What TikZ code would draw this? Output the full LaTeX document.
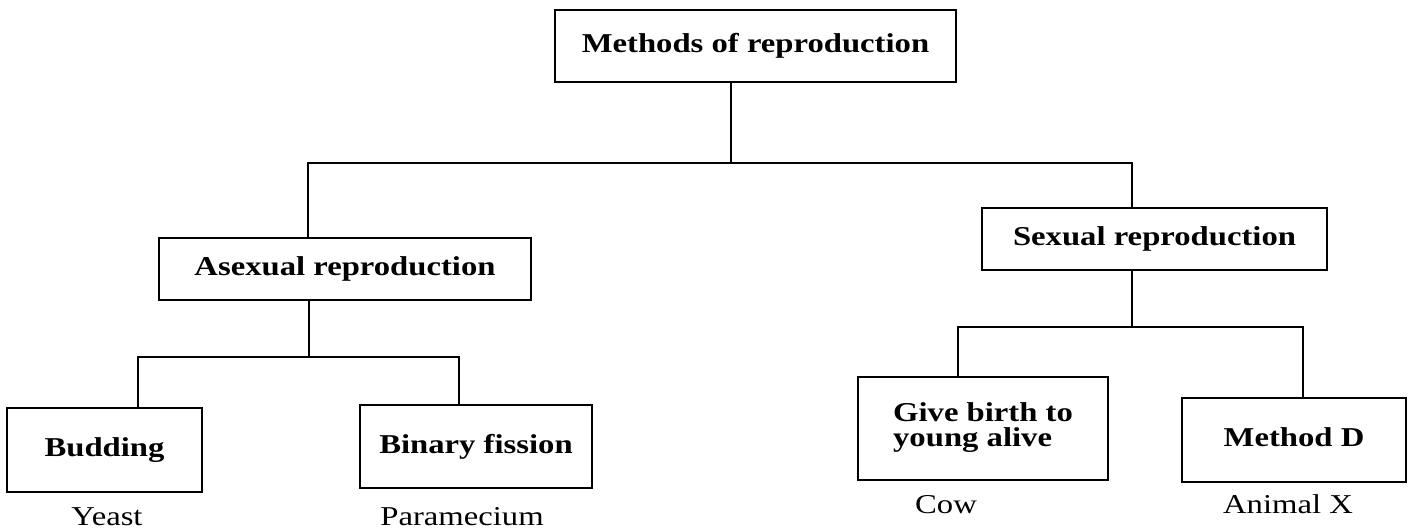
\documentclass[tikz,border=0pt]{standalone}
\usepackage{fontspec}
\setmainfont{Liberation Serif}[FakeStretch=1.2]
\newcommand\lift[1]{\raisebox{3pt}{#1}}
\begin{document}
\begin{tikzpicture}[x=0.02cm,y=-0.02cm,
  box/.style={draw, line width=1.1pt, inner sep=0pt, align=center,
    font=\bfseries\fontsize{15.5}{14.5}\selectfont},
  caption/.style={font=\fontsize{15.5}{14.5}\selectfont, anchor=base, inner sep=0pt},
  link/.style={line width=1.1pt}]
\useasboundingbox (0,0) rectangle (1415,528);

% boxes
\node[box, minimum width=8.02cm, minimum height=1.44cm] (top) at (755.5,46) {\lift{Methods of reproduction}};
\node[box, minimum width=7.44cm, minimum height=1.24cm] (asex) at (345,269) {\lift{Asexual reproduction}};
\node[box, minimum width=6.90cm, minimum height=1.24cm] (sex) at (1154.5,239) {\lift{Sexual reproduction}};
\node[box, minimum width=3.90cm, minimum height=1.68cm] (bud) at (104.5,450) {\lift{Budding}};
\node[box, minimum width=4.64cm, minimum height=1.66cm] (fis) at (476,446.5) {\lift{Binary fission}};
\node[box, minimum width=5.00cm, minimum height=2.06cm] (birth) at (983,428.5)
  {\raisebox{4pt}{\begin{tabular}{@{}l@{}}Give birth to\\[-1pt] young alive\end{tabular}}};
\node[box, minimum width=4.48cm, minimum height=1.68cm] (md) at (1294,440) {\lift{Method D}};

% examples under the boxes
\node[caption] (yeast) at (107,525) {Yeast};
\node[caption] (para) at (462,525) {Paramecium};
\node[caption] (cow) at (946,513) {Cow};
\node[caption] (animx) at (1288,513) {Animal X};

% junction points of the tree
\coordinate (j0) at (731,163);
\coordinate (jl) at (308,163);
\coordinate (jr) at (1132,163);
\coordinate (a0) at (309,357);
\coordinate (al) at (138,357);
\coordinate (ar) at (459,357);
\coordinate (s0) at (1132,327);
\coordinate (sl) at (958,327);
\coordinate (sr) at (1303,327);

% connectors
\draw[link] (top.south -| j0) -- (j0);
\draw[link] (asex.north -| jl) -- (jl) -- (jr) -- (sex.north -| jr);
\draw[link] (asex.south -| a0) -- (a0);
\draw[link] (bud.north -| al) -- (al) -- (ar) -- (fis.north -| ar);
\draw[link] (sex.south -| s0) -- (s0);
\draw[link] (birth.north -| sl) -- (sl) -- (sr) -- (md.north -| sr);
\end{tikzpicture}
\end{document}
